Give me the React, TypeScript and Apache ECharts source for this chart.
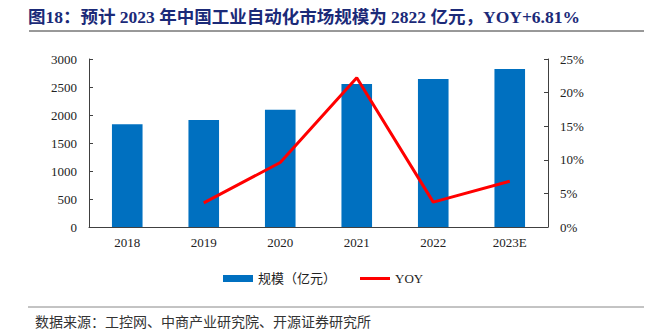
import React, { useEffect, useRef } from "react";
import * as echarts from "echarts";

const categories = ["2018", "2019", "2020", "2021", "2022", "2023E"];
const marketSize = [1837, 1910, 2093, 2553, 2642, 2822];
const yoy: (number | null)[] = [null, 3.6, 9.6, 22.2, 3.7, 6.81];
const leftTicks = [0, 500, 1000, 1500, 2000, 2500, 3000];
const rightTicks = [0, 5, 10, 15, 20, 25];
const titleText = "图18：预计 2023 年中国工业自动化市场规模为 2822 亿元，YOY+6.81%";
const sourceText = "数据来源：工控网、中商产业研究院、开源证券研究所";
const barName = "规模（亿元）";
const lineName = "YOY";

const FONT = "'Times New Roman', 'Liberation Serif', 'Noto Sans CJK SC', serif";

export default function App() {
  const ref = useRef<HTMLDivElement>(null);
  useEffect(() => {
    if (!ref.current) return;
    const chart = echarts.init(ref.current, undefined, { renderer: "svg" });
    const axisColor = "#404040";
    chart.setOption({
      animation: false,
      backgroundColor: "#ffffff",
      textStyle: { fontFamily: FONT },
      grid: { left: 89, right: 114, top: 59, bottom: 106 },
      legend: {
        left: 218,
        top: 267,
        itemWidth: 30,
        itemHeight: 7,
        itemGap: 24,
        textStyle: { fontFamily: FONT, fontSize: 13, color: "#222" },
        data: [
          { name: barName, icon: "rect" },
          { name: lineName, icon: "path://M0,0 L30,0 L30,3 L0,3 Z", itemStyle: { color: "#FF0000" } },
        ],
      },
      xAxis: {
        type: "category",
        data: categories,
        boundaryGap: true,
        axisLine: { lineStyle: { color: axisColor, width: 1 } },
        axisTick: { inside: true, length: 4, interval: 0, lineStyle: { color: axisColor } },
        axisLabel: { fontFamily: FONT, fontSize: 13, color: "#222", margin: 9 },
      },
      yAxis: [
        {
          type: "value",
          min: leftTicks[0],
          max: leftTicks[leftTicks.length - 1],
          interval: 500,
          splitLine: { show: false },
          axisLine: { show: true, lineStyle: { color: axisColor } },
          axisTick: { show: true, inside: true, length: 4, lineStyle: { color: axisColor } },
          axisLabel: {
            fontFamily: FONT,
            fontSize: 13,
            color: "#222",
            margin: 12,
            formatter: (v: number) => String(v),
          },
        },
        {
          type: "value",
          min: rightTicks[0],
          max: rightTicks[rightTicks.length - 1],
          interval: 5,
          splitLine: { show: false },
          axisLine: { show: true, lineStyle: { color: axisColor } },
          axisTick: { show: true, inside: true, length: 4, lineStyle: { color: axisColor } },
          axisLabel: { fontFamily: FONT, fontSize: 13, color: "#222", margin: 12, formatter: (v: number) => v + "%" },
        },
      ],
      series: [
        {
          name: barName,
          type: "bar",
          data: marketSize,
          barWidth: "40%",
          itemStyle: { color: "#0070C0" },
        },
        {
          name: lineName,
          type: "line",
          yAxisIndex: 1,
          data: yoy,
          symbol: "none",
          lineStyle: { color: "#FF0000", width: 3 },
          itemStyle: { color: "#FF0000" },
        },
      ],
      graphic: [
        {
          type: "text",
          left: 28,
          top: 8,
          style: {
            text: titleText,
            fontFamily: FONT,
            fontWeight: "bold",
            fontSize: 17.5,
            fill: "#1B2A78",
          },
        },
        {
          type: "line",
          shape: { x1: 29, y1: 31, x2: 644, y2: 31 },
          style: { stroke: "#333", lineWidth: 1 },
        },
        {
          type: "line",
          shape: { x1: 28, y1: 307, x2: 644, y2: 307 },
          style: { stroke: "#888", lineWidth: 1 },
        },
        {
          type: "text",
          left: 35,
          top: 315,
          style: {
            text: sourceText,
            fontFamily: FONT,
            fontSize: 14,
            fill: "#333",
          },
        },
      ],
    });
    return () => chart.dispose();
  }, []);
  return (
    <div
      ref={ref}
      style={{ position: "fixed", left: 0, top: 0, width: 662, height: 333, background: "#fff" }}
    />
  );
}
